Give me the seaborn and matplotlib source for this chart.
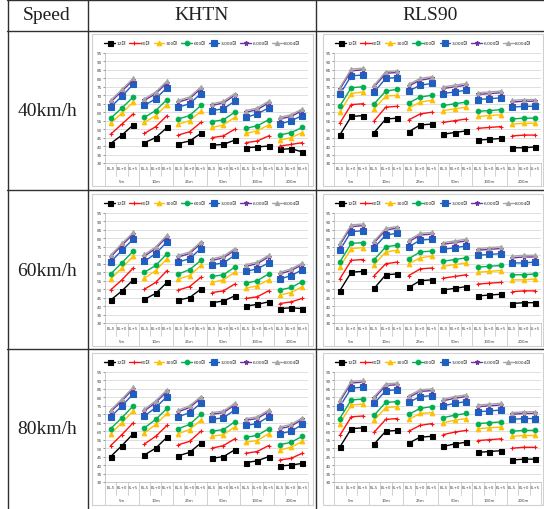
import matplotlib
matplotlib.use("Agg")
import matplotlib.pyplot as plt
from matplotlib.lines import Line2D
from matplotlib.patches import Rectangle
from matplotlib.transforms import blended_transform_factory
import seaborn as sns
import pandas as pd

# categories / labels
series_labels = ['12대', '60대', '300대', '600대', '3,000대', '6,000대', '8,004대']
distances = ['5m', '10m', '25m', '50m', '100m', '200m']
elevations = ['EL-5', 'EL+0', 'EL+5']
speeds = ['40km/h', '60km/h', '80km/h']
models = ['KHTN', 'RLS90']

# values: one row per series, 18 points (6 distances x 3 elevations)
khtn_40 = [
    [41.5, 46.5, 52.5, 42, 45, 51, 41.5, 43, 47.5, 40.5, 41, 43.5, 39, 39.5, 40, 38, 38.5, 36.5],
    [47, 53, 59, 47.5, 51.5, 58, 46.5, 48.5, 54, 45, 46, 50, 42, 43, 46, 40, 41, 42],
    [53.5, 59.5, 66, 54, 58, 64.5, 53, 55, 60.5, 51, 52.5, 57, 47.5, 49, 52.5, 43.5, 45, 48],
    [56.5, 62.5, 69, 57, 61, 67.5, 56, 58, 64, 54.5, 55.5, 60, 50.5, 52, 55.5, 46.5, 48, 51],
    [63, 69.5, 76.5, 64, 68, 74.5, 63, 65, 71, 61, 62, 66.5, 57, 59, 62.5, 53, 55, 58],
    [66, 72.5, 79, 67, 71, 77.5, 66, 68, 74, 64, 65.5, 70, 60, 61.5, 65.5, 56, 57.5, 61],
    [67, 73.5, 80, 68, 72, 78.5, 67, 69, 75, 65, 66.5, 71, 61, 62.5, 66.5, 57, 58.5, 62],
]
rls90_40 = [
    [46.5, 57.5, 58, 48, 56, 56.5, 48.5, 52.5, 53, 47, 48, 49, 43.5, 44, 44.5, 39, 39, 39.5],
    [53.5, 64.5, 65, 55, 63, 63.5, 55.5, 59, 60, 54, 55, 56, 50.5, 51, 51.5, 46, 46.5, 46.5],
    [60, 71, 72, 62, 69.5, 70, 62.5, 66, 67, 61, 62, 63, 57.5, 58, 58.5, 53, 53.5, 53.5],
    [63.5, 74.5, 75, 65, 72.5, 73.5, 65.5, 69, 70, 64, 65, 66, 60.5, 61, 61.5, 56, 56.5, 56.5],
    [70.5, 81.5, 82, 72, 80, 80.5, 72.5, 76, 77, 71, 72, 73, 67.5, 68, 68.5, 63, 63.5, 63.5],
    [73.5, 84.5, 85, 75, 83, 83.5, 75.5, 79, 80, 74, 75, 76, 70.5, 71, 71.5, 66, 66.5, 66.5],
    [74.5, 85.5, 86, 76, 84, 84.5, 76.5, 80, 81, 75, 76, 77, 71.5, 72, 72.5, 67, 67.5, 67.5],
]
khtn_60 = [
    [43.5, 49, 55.5, 44, 47.5, 54, 43.5, 45, 50, 42, 43, 46, 40, 41, 42.5, 38.5, 39, 38.5],
    [49.5, 55.5, 62.5, 50, 54, 61, 49.5, 51.5, 57, 48, 49, 53, 44.5, 45.5, 49, 41.5, 42.5, 44.5],
    [56, 62.5, 69.5, 56.5, 61, 68, 56, 58, 64, 54, 55.5, 60, 50.5, 52, 55.5, 46.5, 48, 51.5],
    [59, 65.5, 72.5, 60, 64, 71, 59, 61.5, 67, 57.5, 58.5, 63, 53.5, 55, 59, 49.5, 51, 54.5],
    [66, 73, 79.5, 66.5, 71, 78, 66, 68, 74, 64.5, 65.5, 70, 60.5, 62, 65.5, 56, 58, 61.5],
    [69, 76, 82.5, 69.5, 74, 81, 69, 71, 77, 67, 68.5, 73, 63.5, 65, 69, 59, 61, 64.5],
    [70, 77, 83.5, 70.5, 75, 82, 70, 72, 78, 68, 69.5, 74, 64.5, 66, 70, 60, 62, 65.5],
]
rls90_60 = [
    [49, 60, 60.5, 50.5, 58.5, 59, 51, 55, 55.5, 49.5, 50.5, 51.5, 46, 46.5, 47, 41.5, 42, 42],
    [56, 67, 67.5, 58, 65, 66, 58, 62, 62.5, 56.5, 57.5, 58.5, 53, 53.5, 54, 48.5, 49, 49],
    [63, 74, 74.5, 64.5, 72, 73, 65, 68.5, 69.5, 63.5, 64.5, 65.5, 60, 60.5, 61, 55.5, 55.5, 56],
    [66, 77, 77.5, 67.5, 75, 76, 68, 72, 72.5, 66.5, 67.5, 68.5, 63, 63.5, 64, 58.5, 58.5, 59],
    [73, 84, 84.5, 74.5, 82, 83, 75, 79, 79.5, 73.5, 74.5, 75.5, 70, 70.5, 71, 65.5, 65.5, 66],
    [76, 87, 87.5, 77.5, 85, 86, 78, 82, 82.5, 76.5, 77.5, 78.5, 73, 73.5, 74, 68.5, 69, 69],
    [77, 88, 88.5, 78.5, 86, 87, 79, 83, 83.5, 77.5, 78.5, 79.5, 74, 74.5, 75, 69.5, 70, 70],
]
khtn_80 = [
    [45, 51.5, 58.5, 46, 50, 56.5, 45.5, 47.5, 53, 44, 45, 49, 41.5, 42.5, 45, 39.5, 40, 41],
    [51.5, 58, 65, 52.5, 57, 63.5, 52, 54, 60, 50, 51.5, 55.5, 47, 48, 51.5, 43, 44, 47],
    [58.5, 65, 72, 59, 64, 70.5, 58.5, 61, 66.5, 57, 58, 62.5, 53.5, 54.5, 58.5, 49, 50.5, 54],
    [61.5, 68, 75, 62, 67, 73.5, 61.5, 64, 70, 60, 61, 65.5, 56.5, 57.5, 61.5, 52, 53.5, 57],
    [68.5, 75, 82, 69, 74, 80.5, 68.5, 71, 76.5, 67, 68, 72.5, 63.5, 64.5, 68.5, 58.5, 60, 64],
    [71.5, 78, 85, 72, 77, 83.5, 71.5, 74, 79.5, 70, 71, 75.5, 66.5, 67.5, 71.5, 61.5, 63, 67],
    [72.5, 79, 86, 73, 78, 84.5, 72.5, 75, 80.5, 71, 72, 76.5, 67.5, 68.5, 72.5, 62.5, 64, 68],
]
rls90_80 = [
    [50.5, 61.5, 62, 52.5, 60, 60.5, 53, 56.5, 57, 51, 52.5, 53.5, 47.5, 48, 48.5, 43, 43.5, 43.5],
    [57.5, 68.5, 69, 59.5, 67, 67.5, 60, 63.5, 64.5, 58, 59.5, 60.5, 54.5, 55, 55.5, 50, 50.5, 50.5],
    [64.5, 75.5, 76, 66.5, 74, 74.5, 67, 70.5, 71, 65, 66.5, 67.5, 61.5, 62, 62.5, 57, 57.5, 57.5],
    [67.5, 78.5, 79, 69.5, 77, 77.5, 70, 73.5, 74.5, 68, 69.5, 70.5, 64.5, 65, 65.5, 60, 60.5, 60.5],
    [74.5, 85.5, 86, 76.5, 84, 84.5, 77, 80.5, 81, 75, 76.5, 77.5, 71.5, 72, 72.5, 67, 67.5, 67.5],
    [77.5, 88.5, 89, 79.5, 87, 87.5, 80, 83.5, 84, 78, 79.5, 80.5, 74.5, 75, 75.5, 70, 70.5, 70.5],
    [78.5, 89.5, 90, 80.5, 88, 88.5, 81, 84.5, 85, 79, 80.5, 81.5, 75.5, 76, 76.5, 71, 71.5, 71.5],
]

# styles
colors = ['#000000', '#FF1010', '#FFC000', '#00B050', '#1F5FBF', '#7030A0', '#A6A6A6']
markers = ['s', '+', '^', 'o', 's', '*', '^']
msizes = [3.6, 3.4, 3.3, 3.3, 3.8, 3.6, 3.0]

sns.set_theme(style='white')
plt.rcParams['font.family'] = ['DejaVu Sans', 'Noto Sans CJK KR']

W, H = 544, 510
fig = plt.figure(figsize=(W / 100, H / 100), dpi=100)


def px_rect(x0, y0, x1, y1):
    # pixel box (top-left origin) -> figure fraction rect
    return [x0 / W, 1 - y1 / H, (x1 - x0) / W, (y1 - y0) / H]


def fig_line(x0, y0, x1, y1):
    fig.add_artist(Line2D([x0 / W, x1 / W], [1 - y0 / H, 1 - y1 / H], transform=fig.transFigure,
                          color='#303030', lw=1.0))


def draw_chart(ax, values):
    rows = []
    for label, vals in zip(series_labels, values):
        for i, v in enumerate(vals):
            rows.append({'x': i, 'y': v, 'series': label, 'group': i // 3})
    df = pd.DataFrame(rows)

    for label, c, m, ms in zip(series_labels, colors, markers, msizes):
        sns.lineplot(data=df[df['series'] == label], x='x', y='y', units='group', estimator=None,
                     color=c, marker=m, markersize=ms, markeredgecolor=c, markeredgewidth=0.8,
                     linewidth=1.0, ax=ax, legend=False)

    ax.set_xlim(-0.5, 17.5)
    ax.set_ylim(30, 95)
    ax.set_yticks(range(30, 100, 5))
    ax.set_axisbelow(True)
    ax.grid(axis='y', color='#D9D9D9', lw=0.6)
    ax.grid(axis='x', visible=False)
    ax.set_xlabel('')
    ax.set_ylabel('')
    ax.tick_params(axis='y', labelsize=3, colors='#404040', length=1.5, width=0.4, pad=1, left=True)
    ax.set_xticks(range(18))
    ax.set_xticklabels(elevations * 6, fontsize=2.8, color='#404040')
    ax.tick_params(axis='x', length=0, pad=2.5)
    for s in ['top', 'right']:
        ax.spines[s].set_visible(False)
    for s in ['left', 'bottom']:
        ax.spines[s].set_color('#BFBFBF')
        ax.spines[s].set_linewidth(0.6)

    trans = blended_transform_factory(ax.transData, ax.transAxes)
    for k in range(19):
        b = k - 0.5
        depth = 0.21 if k % 3 == 0 else 0.12
        ax.plot([b, b], [0, -depth], transform=trans, clip_on=False, color='#BFBFBF', lw=0.5)
    for g, d in enumerate(distances):
        ax.text(g * 3 + 1, -0.165, d, transform=trans, ha='center', va='center',
                fontsize=2.8, color='#404040')

    handles = [Line2D([0], [0], color=c, marker=m, ms=ms, mec=c, mew=0.8, lw=1.0)
               for c, m, ms in zip(colors, markers, msizes)]
    ax.legend(handles, series_labels, loc='center', bbox_to_anchor=(0.48, 1.09), ncol=7,
              frameon=False, fontsize=3.2, handlelength=2.4, columnspacing=0.7, handletextpad=0.3)


charts = [[khtn_40, rls90_40], [khtn_60, rls90_60], [khtn_80, rls90_80]]
row_tops = [31, 191, 350]
frames_x = [(92, 313), (323, 543)]
axes_x = [(105, 308), (334, 541)]

# table grid
fig_line(7, 1, 544, 1)
for y in [31.5] + row_tops[1:]:
    fig_line(7, y, 544, y)
for x in [7.5, 88, 316]:
    fig_line(x, 1, x, 510)

serif = ['Liberation Serif', 'DejaVu Serif']
fig.text(47 / W, 1 - 16 / H, 'Speed', family=serif, fontsize=14, ha='center', va='center', color='#202020')
fig.text(202 / W, 1 - 16 / H, models[0], family=serif, fontsize=14, ha='center', va='center', color='#202020')
fig.text(430 / W, 1 - 16 / H, models[1], family=serif, fontsize=14, ha='center', va='center', color='#202020')

for r, top in enumerate(row_tops):
    fig.text(47 / W, 1 - (top + 80) / H, speeds[r], family=serif, fontsize=14,
             ha='center', va='center', color='#202020')
    for c in range(2):
        fx0, fx1 = frames_x[c]
        fr = px_rect(fx0, top + 4, fx1, top + 156)
        fig.add_artist(Rectangle((fr[0], fr[1]), fr[2], fr[3], transform=fig.transFigure,
                                 fill=False, ec='#D0D0D0', lw=0.8))
        ax0, ax1 = axes_x[c]
        ax = fig.add_axes(px_rect(ax0, top + 23, ax1, top + 133))
        draw_chart(ax, charts[r][c])

fig.savefig('out.png', dpi=100, facecolor='white')
